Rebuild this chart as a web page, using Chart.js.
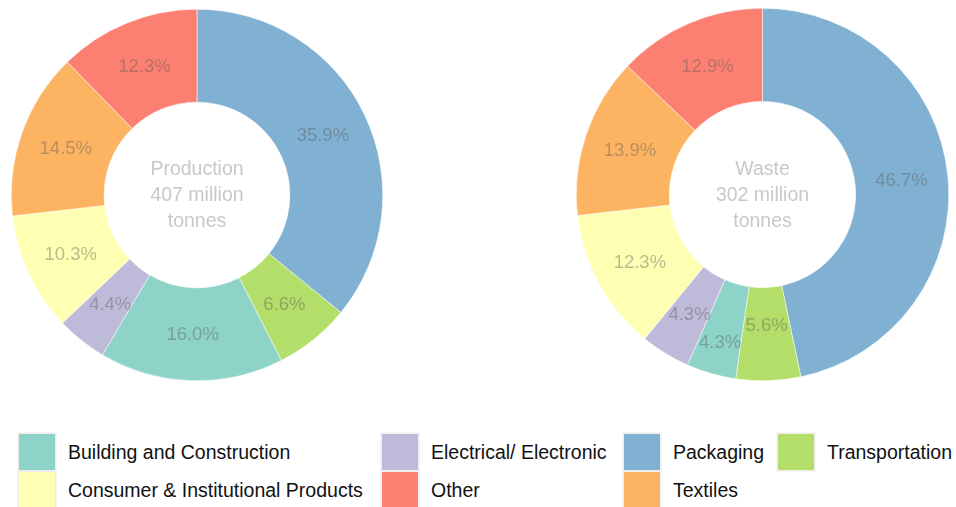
<!DOCTYPE html>
<html>
<head>
<meta charset="utf-8">
<script src="https://cdn.jsdelivr.net/npm/chart.js@4.4.0/dist/chart.umd.min.js"></script>
<style>
  body {
    margin: 0;
    width: 956px;
    height: 507px;
    background: #fff;
    position: relative;
    overflow: hidden;
    font-family: "Liberation Sans", Arial, sans-serif;
  }
  canvas { position: absolute; }
  .box {
    position: absolute;
    width: 36px;
    height: 36px;
    box-shadow: 0 0 0 1.5px #eeeeee;
  }
  .txt {
    position: absolute;
    font-size: 19.5px;
    line-height: 22px;
    color: #111;
    white-space: nowrap;
  }
</style>
</head>
<body>
<canvas id="prod" width="372" height="372" style="left:11px;top:9px"></canvas>
<canvas id="waste" width="373" height="373" style="left:576px;top:8px"></canvas>
<div id="legend"></div>

<script>
// categories, in legend order (column by column)
const categories = [
  'Building and Construction',
  'Consumer & Institutional Products',
  'Electrical/ Electronic',
  'Other',
  'Packaging',
  'Textiles',
  'Transportation'
];
const colors = ['#8DD3C7', '#FFFFB3', '#BEBADA', '#FB8072', '#80B1D3', '#FDB462', '#B3DE69'];

// slice order around the ring, clockwise from 12 o'clock
const sliceOrder = [
  'Packaging',
  'Transportation',
  'Building and Construction',
  'Electrical/ Electronic',
  'Consumer & Institutional Products',
  'Textiles',
  'Other'
];

// shares in %, same order as sliceOrder
const productionShare = [35.9, 6.6, 16.0, 4.4, 10.3, 14.5, 12.3];
const wasteShare      = [46.7, 5.6, 4.3, 4.3, 12.3, 13.9, 12.9];

const productionTitle = ['Production', '407 million', 'tonnes'];
const wasteTitle      = ['Waste', '302 million', 'tonnes'];

const FONT = '"Liberation Sans", Arial, sans-serif';

const sliceColors = sliceOrder.map(c => colors[categories.indexOf(c)]);

// percent text on each arc + the caption in the hole
// `nudge` moves crowded labels along the radius (slice index -> px)
const ringText = {
  id: 'ringText',
  afterDatasetsDraw(chart, args, opts) {
    const ctx = chart.ctx;
    const meta = chart.getDatasetMeta(0);
    const vals = chart.data.datasets[0].data;
    const nudge = opts.nudge || {};
    ctx.save();
    ctx.textAlign = 'center';
    ctx.textBaseline = 'middle';
    ctx.font = '18.5px ' + FONT;
    ctx.fillStyle = 'rgba(90,90,90,0.42)';
    meta.data.forEach((arc, i) => {
      const p = arc.getCenterPoint();
      const d = nudge[i] || 0;
      const ang = (arc.startAngle + arc.endAngle) / 2;
      ctx.fillText(vals[i].toFixed(1) + '%',
        p.x + d * Math.cos(ang), p.y + 1 + d * Math.sin(ang));
    });

    const a = meta.data[0];
    ctx.font = '19.5px ' + FONT;
    ctx.fillStyle = '#c8c8c8';
    const lh = 26;
    const y0 = a.y + 1 - lh * (opts.lines.length - 1) / 2;
    opts.lines.forEach((t, k) => ctx.fillText(t, a.x, y0 + k * lh));
    ctx.restore();
  }
};

function ring(id, values, lines, nudge) {
  return new Chart(document.getElementById(id), {
    type: 'doughnut',
    data: {
      labels: sliceOrder,
      datasets: [{
        data: values,
        backgroundColor: sliceColors,
        borderColor: '#ffffff',
        borderWidth: 0.5,
        hoverOffset: 0
      }]
    },
    options: {
      responsive: false,
      animation: false,
      cutout: '50%',
      layout: { padding: 0 },
      plugins: {
        legend: { display: false },
        tooltip: { enabled: false },
        ringText: { lines: lines, nudge: nudge }
      }
    },
    plugins: [ringText]
  });
}

ring('prod', productionShare, productionTitle, {});
ring('waste', wasteShare, wasteTitle, { 1: -9, 2: 14 });

// shared legend, two rows
const legendX = [19, 382, 624, 778];
const legendY = [434, 472];
const legend = document.getElementById('legend');
categories.forEach((c, i) => {
  const col = Math.floor(i / 2), row = i % 2;
  const b = document.createElement('div');
  b.className = 'box';
  b.style.left = legendX[col] + 'px';
  b.style.top = legendY[row] + 'px';
  b.style.background = colors[i];
  legend.appendChild(b);
  const t = document.createElement('div');
  t.className = 'txt';
  t.textContent = c;
  t.style.left = (legendX[col] + 49) + 'px';
  t.style.top = (legendY[row] + 7) + 'px';
  legend.appendChild(t);
});
</script>
</body>
</html>
